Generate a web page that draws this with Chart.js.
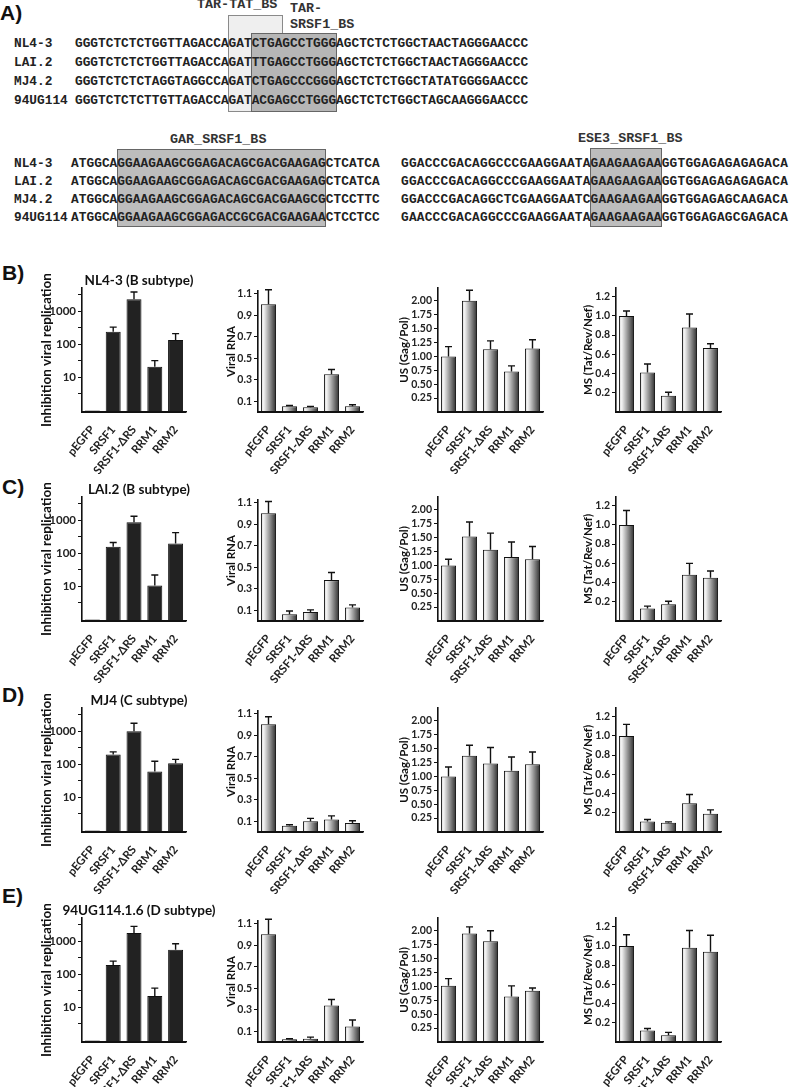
<!DOCTYPE html>
<html><head><meta charset="utf-8">
<script src="https://cdn.jsdelivr.net/npm/chart.js@4.4.1/dist/chart.umd.min.js"></script>
<style>
body{margin:0;background:#fff;}
#wrap{position:relative;width:789px;height:1087px;overflow:hidden;background:#fff;}
.mono{position:absolute;font-family:"Liberation Mono","DejaVu Sans Mono",monospace;font-weight:bold;white-space:pre;color:#222;line-height:16px;}
.box{position:absolute;box-sizing:border-box;}
.letter{position:absolute;font-family:"Liberation Sans",Arial,sans-serif;font-weight:bold;font-size:21px;line-height:24px;color:#111;}
canvas{position:absolute;}
</style></head><body><div id="wrap"></div>
<script>
// ---------------- DATA ----------------
const seqNames = ['NL4-3', 'LAI.2', 'MJ4.2', '94UG114'];
const tarSeqs = [
  'GGGTCTCTCTGGTTAGACCAGATCTGAGCCTGGGAGCTCTCTGGCTAACTAGGGAACCC',
  'GGGTCTCTCTGGTTAGACCAGATTTGAGCCTGGGAGCTCTCTGGCTAACTAGGGAACCC',
  'GGGTCTCTCTAGGTAGGCCAGATCTGAGCCCGGGAGCTCTCTGGCTATATGGGGAACCC',
  'GGGTCTCTCTTGTTAGACCAGATACGAGCCTGGGAGCTCTCTGGCTAGCAAGGGAACCC'
];
const garSeqs = [
  'ATGGCAGGAAGAAGCGGAGACAGCGACGAAGAGCTCATCA',
  'ATGGCAGGAAGAAGCGGAGACAGCGACGAAGAGCTCATCA',
  'ATGGCAGGAAGAAGCGGAGACAGCGACGAAGCGCTCCTTC',
  'ATGGCAGGAAGAAGCGGAGACCGCGACGAAGAACTCCTCC'
];
const eseSeqs = [
  'GGACCCGACAGGCCCGAAGGAATAGAAGAAGAAGGTGGAGAGAGAGACA',
  'GGACCCGACAGGCCCGAAGGAATAGAAGAAGAAGGTGGAGAGAGAGACA',
  'GGACCCGACAGGCTCGAAGGAATCGAAGAAGAAGGTGGAGAGCAAGACA',
  'GAACCCGACAGGCCCGAAGGAATAGAAGAAGAAGGTGGAGAGCGAGACA'
];
// binding-site boxes: [first char, last char]
const tarTatSite = [20, 26];
const tarSrsf1Site = [23, 33];
const garSite = [6, 32];
const ese3Site = [24, 32];

const categories = ['pEGFP', 'SRSF1', 'SRSF1-\u0394RS', 'RRM1', 'RRM2'];
const strainTitles = ['NL4-3 (B subtype)', 'LAI.2 (B subtype)', 'MJ4 (C subtype)', '94UG114.1.6 (D subtype)'];
const panelLetters = ['B)', 'C)', 'D)', 'E)'];
const yTitles = ['Inhibition viral replication', 'Viral RNA', 'US (Gag/Pol)', 'MS (Tat/Rev/Nef)'];

// NL4-3
const inhibNL43 = [1, 240, 2290, 21, 135];
const inhibNL43Err = [0, 90, 1510, 11, 75];
const rnaNL43 = [1.0, 0.053, 0.045, 0.35, 0.053];
const rnaNL43Err = [0.135, 0.007, 0.007, 0.045, 0.015];
const usNL43 = [1.0, 2.0, 1.13, 0.73, 1.14];
const usNL43Err = [0.175, 0.19, 0.15, 0.10, 0.16];
const msNL43 = [1.0, 0.41, 0.17, 0.88, 0.665];
const msNL43Err = [0.05, 0.09, 0.035, 0.14, 0.045];
// LAI.2
const inhibLAI2 = [1, 158, 870, 10.7, 198];
const inhibLAI2Err = [0, 54, 440, 11.3, 222];
const rnaLAI2 = [1.0, 0.062, 0.084, 0.38, 0.125];
const rnaLAI2Err = [0.11, 0.031, 0.019, 0.07, 0.025];
const usLAI2 = [1.0, 1.52, 1.28, 1.15, 1.11];
const usLAI2Err = [0.11, 0.26, 0.30, 0.27, 0.23];
const msLAI2 = [1.0, 0.13, 0.175, 0.48, 0.45];
const msLAI2Err = [0.15, 0.025, 0.03, 0.12, 0.07];
// MJ4
const inhibMJ4 = [1, 198, 1000, 60, 107];
const inhibMJ4Err = [0, 39, 730, 63, 33];
const rnaMJ4 = [1.0, 0.058, 0.10, 0.115, 0.084];
const rnaMJ4Err = [0.07, 0.01, 0.027, 0.035, 0.021];
const usMJ4 = [1.0, 1.37, 1.23, 1.10, 1.22];
const usMJ4Err = [0.17, 0.19, 0.29, 0.25, 0.22];
const msMJ4 = [1.0, 0.11, 0.095, 0.30, 0.19];
const msMJ4Err = [0.12, 0.02, 0.01, 0.09, 0.04];
// 94UG114.1.6
const inhibUG = [1, 190, 1770, 22, 550];
const inhibUGErr = [0, 60, 1030, 16, 280];
const rnaUG = [1.0, 0.025, 0.03, 0.34, 0.145];
const rnaUGErr = [0.14, 0.005, 0.015, 0.055, 0.06];
const usUG = [1.01, 1.95, 1.81, 0.82, 0.92];
const usUGErr = [0.13, 0.12, 0.19, 0.19, 0.05];
const msUG = [1.0, 0.12, 0.07, 0.98, 0.94];
const msUGErr = [0.115, 0.02, 0.03, 0.18, 0.17];

// tick labels
const logTicks = [3.162, 10, 31.62, 100, 316.2, 1000, 3162];
const logTickLabels = [10, 100, 1000];
const rnaTicks = [0.1, 0.2, 0.3, 0.4, 0.5, 0.6, 0.7, 0.8, 0.9, 1.0, 1.1];
const usTicks = [0.25, 0.5, 0.75, 1.0, 1.25, 1.5, 1.75, 2.0];
const msTicks = [0.2, 0.4, 0.6, 0.8, 1.0, 1.2];

// ---------------- PANEL A ----------------
const wrap = document.getElementById('wrap');
function el(cls, text, style) {
  const d = document.createElement('div');
  d.className = cls; d.textContent = text;
  Object.assign(d.style, style);
  wrap.appendChild(d); return d;
}
const FS = 12.8, ADV = FS * 0.6;
const blocks = [
  {seqs: tarSeqs, x: 75, cw: 7.68, ys: [44.3, 63.3, 81.7, 101], names: true},
  {seqs: garSeqs, x: 71, cw: 7.72, ys: [164.3, 181.7, 200, 218.3], names: true},
  {seqs: eseSeqs, x: 401, cw: 7.9, ys: [164.3, 181.7, 200, 218.3], names: false}
];
function addBox(b, site, top, bottom, fill, border) {
  const left = b.x + site[0] * b.cw - 0.5;
  const right = b.x + (site[1] + 1) * b.cw + 0.5;
  el('box', '', {left: left + 'px', top: top + 'px', width: (right - left) + 'px', height: (bottom - top) + 'px', background: fill, border: '1px solid ' + border});
}
addBox(blocks[0], tarTatSite, 15, 112, '#efefef', '#8a8a8a');
addBox(blocks[0], tarSrsf1Site, 33, 112, '#b6b6b6', '#666');
addBox(blocks[1], garSite, 149, 227, '#bdbdbd', '#666');
addBox(blocks[2], ese3Site, 148, 227, '#bdbdbd', '#666');

blocks.forEach(b => {
  b.seqs.forEach((s, i) => {
    el('mono', s, {left: b.x + 'px', top: (b.ys[i] - 8) + 'px', fontSize: FS + 'px', letterSpacing: (b.cw - ADV) + 'px'});
    if (b.names) el('mono', seqNames[i], {left: '14px', top: (b.ys[i] - 8) + 'px', fontSize: FS + 'px'});
  });
});
const lblStyle = (l, cy) => ({left: l + 'px', top: (cy - 8) + 'px', fontSize: '13.4px', color: '#333'});
el('mono', 'TAR-TAT_BS', lblStyle(197, 5));
el('mono', 'TAR-', lblStyle(290, 9));
el('mono', 'SRSF1_BS', lblStyle(290, 25));
el('mono', 'GAR_SRSF1_BS', lblStyle(170, 140));
el('mono', 'ESE3_SRSF1_BS', lblStyle(578, 139));
el('letter', 'A)', {left: '0px', top: '1px'});

// ---------------- CHARTS ----------------
const panelData = [
  [[inhibNL43, inhibNL43Err], [rnaNL43, rnaNL43Err], [usNL43, usNL43Err], [msNL43, msNL43Err]],
  [[inhibLAI2, inhibLAI2Err], [rnaLAI2, rnaLAI2Err], [usLAI2, usLAI2Err], [msLAI2, msLAI2Err]],
  [[inhibMJ4, inhibMJ4Err], [rnaMJ4, rnaMJ4Err], [usMJ4, usMJ4Err], [msMJ4, msMJ4Err]],
  [[inhibUG, inhibUGErr], [rnaUG, rnaUGErr], [usUG, usUGErr], [msUG, msUGErr]]
];
const letterY = [261, 475, 683, 884];
const rowBottom = [412, 621, 832, 1042];
const colAL = [82, 258, 438, 616];
const colAR = [186, 363, 543, 721];
const colPadRight = [34, 14, 14, 14];
const axisLen = [124, 121, 124, 124];
const yTitleX = [47, 231, 404, 588];
const yTitleSize = [13.5, 11.5, 11.5, 11.5];
const BAR_PCT = 0.72;
const FONT = 'Lato';

const errorBars = {
  id: 'errorBars',
  afterDatasetsDraw(chart, args, opts) {
    const errs = opts.errors; if (!errs) return;
    const meta = chart.getDatasetMeta(0), ys = chart.scales.y, ctx = chart.ctx;
    const vals = chart.data.datasets[0].data;
    ctx.save(); ctx.strokeStyle = '#111'; ctx.lineWidth = 1.4;
    meta.data.forEach((bar, i) => {
      if (!errs[i]) return;
      const yTop = ys.getPixelForValue(vals[i] + errs[i]);
      ctx.beginPath();
      ctx.moveTo(bar.x, bar.y); ctx.lineTo(bar.x, yTop);
      ctx.moveTo(bar.x - 3.5, yTop); ctx.lineTo(bar.x + 3.5, yTop);
      ctx.stroke();
    });
    ctx.restore();
  },
  afterDraw(chart) {
    // x axis baseline drawn on top of everything
    const ctx = chart.ctx, a = chart.chartArea;
    ctx.save(); ctx.strokeStyle = '#111'; ctx.lineWidth = 2;
    ctx.beginPath(); ctx.moveTo(a.left - 1, a.bottom); ctx.lineTo(a.right, a.bottom); ctx.stroke();
    ctx.restore();
  }
};
const panelTitle = {
  id: 'panelTitle',
  afterDraw(chart, args, opts) {
    if (!opts.text) return;
    const {ctx, chartArea: a} = chart;
    ctx.save(); ctx.font = 'bold 13.5px ' + FONT; ctx.fillStyle = '#111';
    ctx.textAlign = 'center'; ctx.textBaseline = 'middle';
    ctx.fillText(opts.text, (a.left + a.right) / 2 + 5, a.top - 7);
    ctx.restore();
  }
};
function gradFill(c) {
  const chart = c.chart, xs = chart.scales && chart.scales.x;
  if (!xs || !chart.chartArea || c.dataIndex === undefined) return '#888';
  const n = chart.data.labels.length;
  const bw = (xs.right - xs.left) / n * BAR_PCT;
  const cx = xs.getPixelForValue(c.dataIndex);
  const g = chart.ctx.createLinearGradient(cx - bw / 2, 0, cx + bw / 2, 0);
  g.addColorStop(0, '#d8d8d8'); g.addColorStop(0.18, '#f3f3f3'); g.addColorStop(1, '#2e2e2e');
  return g;
}
const yConf = [
  {type: 'logarithmic', min: 0.9, max: 5000, ticks: logTicks, fmt: v => logTickLabels.includes(v) ? String(v) : '', size: 11.5},
  {type: 'linear', min: 0, max: 1.124, ticks: rnaTicks, fmt: v => v.toFixed(1), size: 10.5},
  {type: 'linear', min: 0, max: 2.23, ticks: usTicks, fmt: v => v.toFixed(2), size: 10.5},
  {type: 'linear', min: 0, max: 1.29, ticks: msTicks, fmt: v => v.toFixed(1), size: 10.5}
];
function makeChart(r, c) {
  const AB = rowBottom[r], AL = colAL[c], AR = colAR[c], AT = AB - axisLen[c];
  const lh = yTitleSize[c] * 1.2;
  const CL = Math.round(yTitleX[c] - lh / 2);
  const CT = Math.round(AT - 20);
  const W = Math.round(AR + colPadRight[c] - CL), H = Math.round(AB + 62 - CT);
  const padTop = AT - CT, padRight = CL + W - AR, xH = CT + H - AB, yW = AL - CL;
  const cv = document.createElement('canvas');
  cv.width = W; cv.height = H;
  cv.style.left = CL + 'px'; cv.style.top = CT + 'px';
  cv.style.width = W + 'px'; cv.style.height = H + 'px';
  wrap.appendChild(cv);
  const [vals, errs] = panelData[r][c];
  const yc = yConf[c];
  new Chart(cv, {
    type: 'bar',
    data: {labels: categories, datasets: [{
      data: vals,
      backgroundColor: c === 0 ? '#222' : gradFill,
      borderColor: '#111', borderWidth: 1,
      barPercentage: BAR_PCT, categoryPercentage: 1
    }]},
    options: {
      responsive: false, animation: false, devicePixelRatio: 1,
      layout: {padding: {top: padTop, right: padRight, left: 0, bottom: 0}},
      plugins: {legend: {display: false}, tooltip: {enabled: false},
        errorBars: {errors: errs}, panelTitle: {text: c === 0 ? strainTitles[r] : ''}},
      scales: {
        x: {
          type: 'category', offset: true,
          grid: {display: false},
          border: {display: true, color: '#111', width: 1.6},
          ticks: {autoSkip: false, minRotation: 50, maxRotation: 50, padding: 3,
            font: {family: FONT, weight: 'bold', size: 11.5}, color: '#222'},
          afterFit(s) { s.height = xH; }
        },
        y: {
          type: yc.type, min: yc.min, max: yc.max,
          afterBuildTicks(s) { s.ticks = yc.ticks.map(v => ({value: v})); },
          ticks: {callback: v => yc.fmt(v), font: {family: FONT, weight: 'bold', size: yc.size}, color: '#222', padding: 2},
          grid: {display: true, drawOnChartArea: false, drawTicks: true, tickLength: 4, color: '#111', lineWidth: 1},
          border: {display: true, color: '#111', width: 1.6},
          title: {display: true, text: yTitles[c], font: {family: FONT, weight: 'bold', size: yTitleSize[c]}, color: '#111', padding: 0},
          afterFit(s) { s.width = yW; }
        }
      }
    },
    plugins: [errorBars, panelTitle]
  });
}
for (let r = 0; r < 4; r++) {
  el('letter', panelLetters[r], {left: '2px', top: letterY[r] + 'px'});
  for (let c = 0; c < 4; c++) makeChart(r, c);
}
</script>
</body></html>
